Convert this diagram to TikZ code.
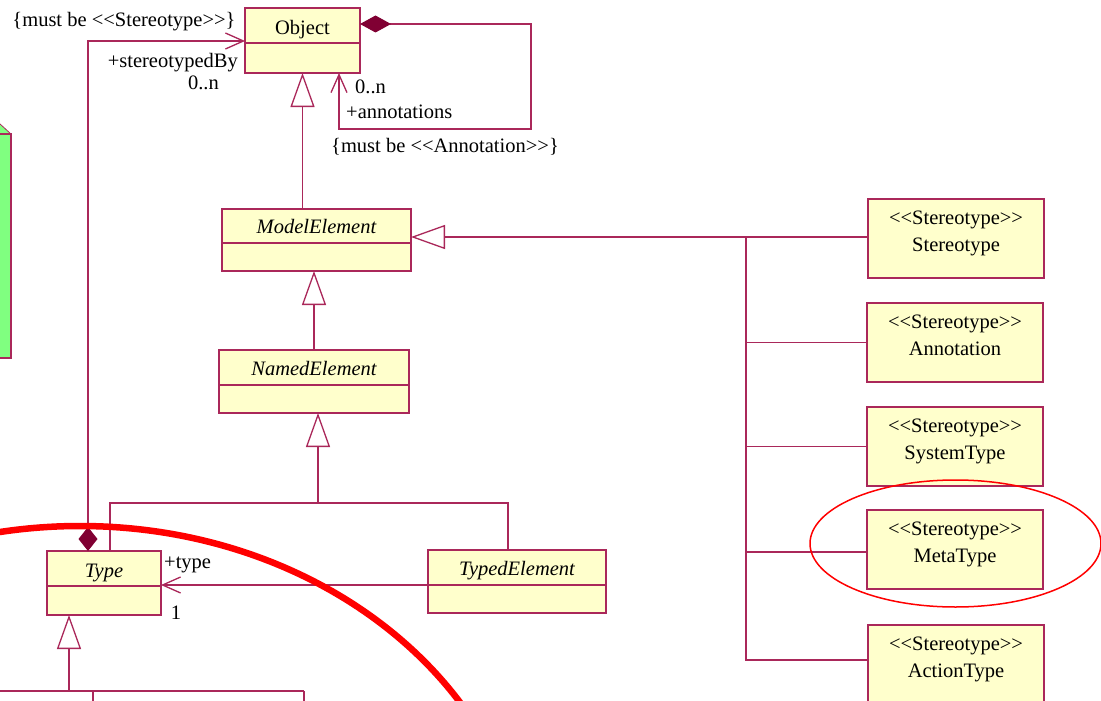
\documentclass[tikz,border=0pt]{standalone}
\usepackage{fontspec}
\setmainfont{Liberation Serif}
\usetikzlibrary{arrows.meta}
\definecolor{umlline}{RGB}{170,40,90}
\definecolor{umlfill}{RGB}{255,255,204}
\definecolor{umldark}{RGB}{128,0,51}
\definecolor{pkggreen}{RGB}{128,255,128}
\definecolor{markred}{RGB}{255,0,0}

% class box: name, x, y, width, height, divider offset, baseline offset, title
\newcommand\umlclass[8]{%
  \node[classbox, minimum width=#4pt, minimum height=#5pt, anchor=north west] (#1) at (#2,#3) {};
  \draw[uml] ([yshift=-#6pt]#1.north west) -- ([yshift=-#6pt]#1.north east);
  \node[lbl] (#1-name) at ([yshift=-#7pt]#1.north) {#8};
}
% stereotype box: name, x, y, title
\newcommand\stereobox[4]{%
  \node[classbox, minimum width=176pt, minimum height=79pt, anchor=north west] (#1) at (#2,#3) {};
  \node[lbl] (#1-st) at ([yshift=-25pt]#1.north) {<{}<Stereotype>{}>};
  \node[lbl] (#1-name) at ([yshift=-52pt]#1.north) {#4};
}

\begin{document}
\begin{tikzpicture}[x=1pt,y=-1pt,
  font=\fontsize{20.5}{24}\selectfont,
  uml/.style={draw=umlline,line width=1.3pt},
  classbox/.style={uml,fill=umlfill,rectangle,inner sep=0pt,outer sep=0pt},
  gen/.style={uml,-{Triangle[open,length=34pt,width=24pt]}},
  assoc/.style={uml,-{Straight Barb[length=18pt,width=16pt]}},
  lbl/.style={inner sep=0pt,anchor=base},
]
\useasboundingbox (0,0) rectangle (1101,701);
\clip (0,0) rectangle (1101,701);
\fill[white] (0,0) rectangle (1101,701);

% package edge at the left border
\fill[pkggreen] (0,124) -- (11,134) -- (11,358) -- (0,358) -- cycle;
\draw[uml] (0,134) -- (11,134) -- (11,358) -- (0,358);
\draw[umlline,line width=0.8pt] (0,124) -- (11,134);

% classes
\umlclass{obj}{245}{8}{115}{65}{35}{27}{Object}
\umlclass{me}{222}{209}{189}{62}{34}{24}{\itshape ModelElement}
\umlclass{ne}{219}{350}{190}{63}{35}{25}{\itshape NamedElement}
\umlclass{type}{47}{551}{114}{64}{35}{26}{\itshape Type}
\umlclass{te}{428}{550}{178}{63}{35}{25}{\itshape TypedElement}

% stereotypes
\stereobox{st}{868}{199}{Stereotype}
\stereobox{an}{867}{303}{Annotation}
\stereobox{sy}{867}{407}{SystemType}
\stereobox{mt}{867}{510}{MetaType}
\stereobox{acttype}{868}{625}{ActionType}

% Object -> annotations (self composition)
\draw[uml,{Diamond[length=31pt,width=17pt,color=umldark]}-{Straight Barb[length=18pt,width=16pt]}]
  ([yshift=-16pt]obj.north east) -- ++(171,0) -- ++(0,105) -- ++(-192,0)
  -- ([xshift=-21pt]obj.south east);
\node[lbl,anchor=base west] (annmult) at (355,93) {0..n};
\node[lbl,anchor=base west] (annrole) at (346,118) {+annotations};
\node[lbl,anchor=base west] (anncons) at (331,152) {\{must be <{}<Annotation>{}>\}};

% Type -> Object (stereotypedBy)
\draw[uml,{Diamond[length=24pt,width=19pt,color=umldark]}-{Straight Barb[length=18pt,width=16pt]}]
  ([xshift=41pt]type.north west) |- ([yshift=-33pt]obj.north west);
\node[lbl] (stcons) at (124,27) {\{must be <{}<Stereotype>{}>\}};
\node[lbl,anchor=base east] (strole) at (238,67) {+stereotypedBy};
\node[lbl,anchor=base east] (stmult) at (219,90) {0..n};

% generalizations
\draw[gen] (obj.south |- me.north) -- (obj.south);
\draw[gen] (ne.north) -- (ne.north |- me.south);

\coordinate (nej) at (318,503);
\draw[gen] (nej) -- (ne.south -| nej);
\draw[uml] ([xshift=63pt]type.north west) |- (nej) -| ([xshift=80pt]te.north west);

\coordinate (stj) at (746,0);
\draw[gen] ([yshift=1.5pt]st.west) -- ([yshift=1.5pt]st.west -| me.east);
\draw[uml] ([yshift=1.5pt]st.west -| stj) |- (an.west);
\draw[uml] ([yshift=1.5pt]st.west -| stj) |- (sy.west);
\draw[uml] ([yshift=1.5pt]st.west -| stj) |- ([yshift=-42pt]mt.north west);
\draw[uml] ([yshift=1.5pt]st.west -| stj) |- ([yshift=-35pt]acttype.north west);

% TypedElement -> Type
\draw[assoc] ([yshift=-35pt]te.north west) -- ([yshift=-35pt]te.north west -| type.east);
\node[lbl,anchor=base west] (typerole) at (164,568) {+type};
\node[lbl] (typemult) at (176,619) {1};

% subclasses of Type
\coordinate (tj) at (69,691);
\draw[gen] (tj) -- (type.south -| tj);
\draw[uml] (0,691) -- (304,691);
\draw[uml] (93,691) -- (93,705);
\draw[uml] (304,691) -- (304,705);

% highlight marks
\draw[markred,line width=1.5pt] (955.5,543.5) ellipse [x radius=145.5pt, y radius=63.5pt];
\draw[markred,line width=6.5pt] (80,906) ellipse [x radius=450pt, y radius=380pt];
\end{tikzpicture}
\end{document}
